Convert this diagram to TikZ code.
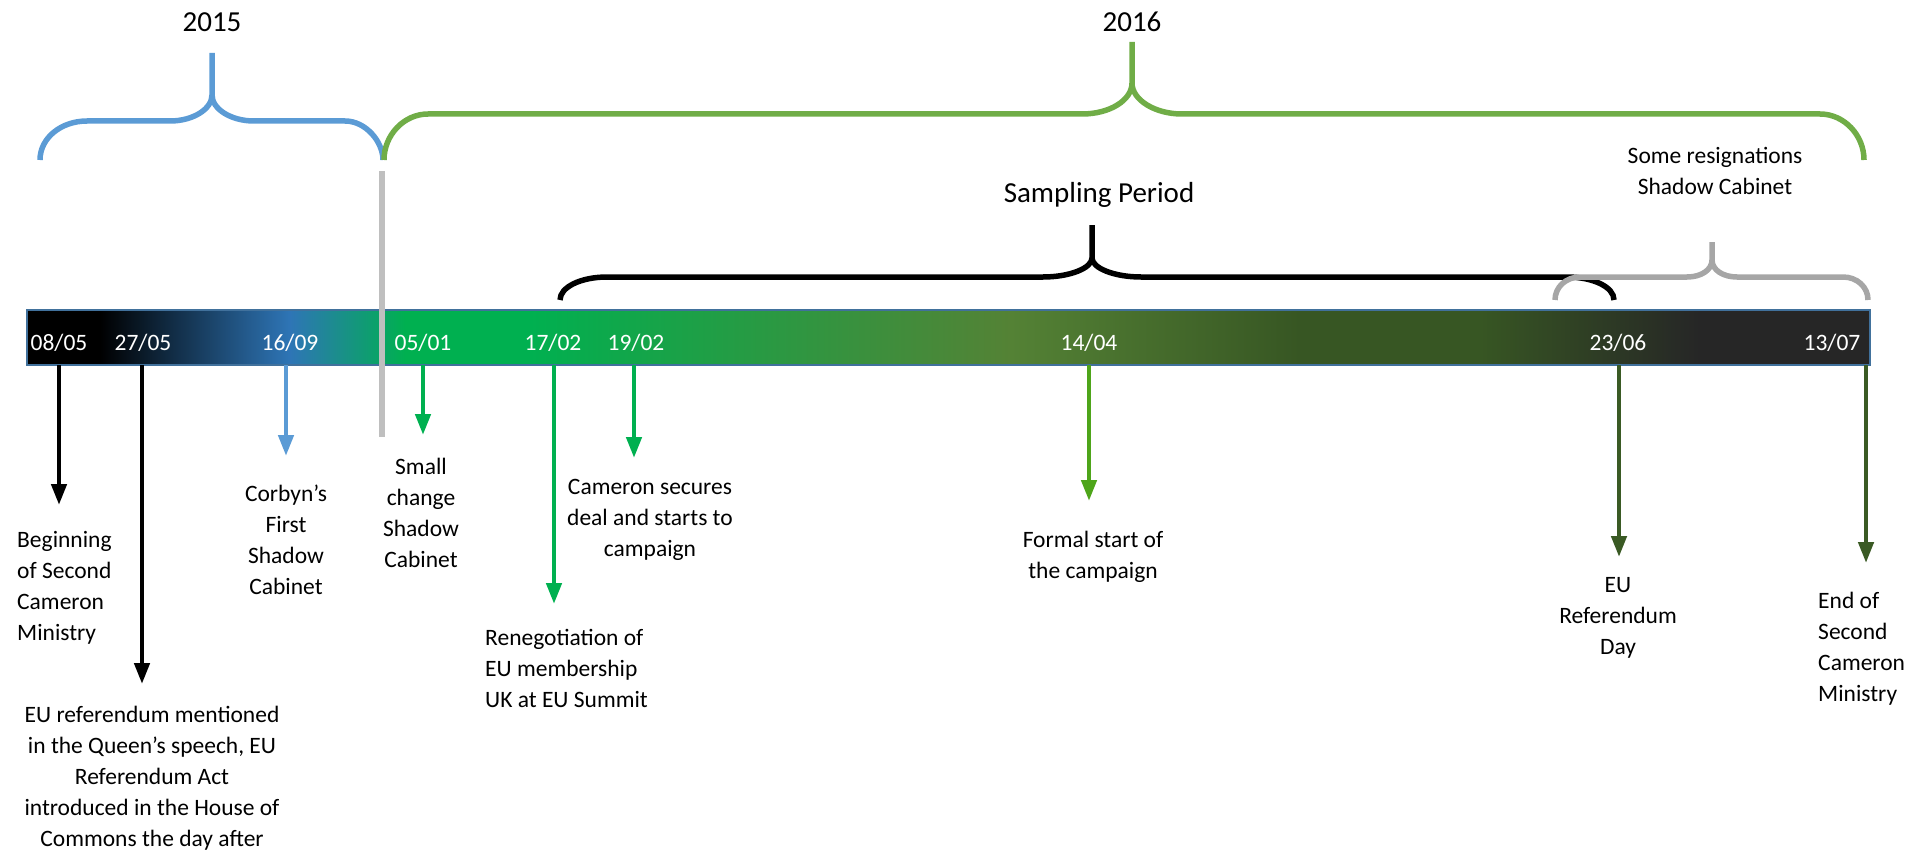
\documentclass[tikz,border=0pt]{standalone}
\usepackage{fontspec}
\setmainfont{Carlito}
\usetikzlibrary{arrows.meta}
\definecolor{yrblue}{HTML}{5B9BD5}
\definecolor{yrgreen}{HTML}{70AD47}
\definecolor{evgreen}{HTML}{00B050}
\definecolor{midgreen}{HTML}{4EA51A}
\definecolor{darkgreen}{HTML}{3A5A24}
\definecolor{splitgray}{HTML}{BFBFBF}
\definecolor{bracegray}{HTML}{A6A6A6}
\definecolor{barblue}{HTML}{2E75B6}
\definecolor{barolive}{HTML}{548235}
\definecolor{bardark}{HTML}{375623}
\definecolor{barcoal}{HTML}{262626}
\definecolor{baredge}{HTML}{41719C}
\begin{document}
\begin{tikzpicture}[x=1pt,y=-1pt,
  evarrow/.style={line width=4.5pt,-{Triangle[length=21pt,width=15pt]}},
  bracket/.style={line width=5.5pt},
  datelbl/.style={white,inner sep=0pt,font=\fontsize{23.5}{28}\selectfont},
  note/.style={inner sep=0pt,align=center,font=\fontsize{23.5}{31}\selectfont},
  heading/.style={inner sep=0pt,font=\fontsize{29}{34}\selectfont}]
\useasboundingbox (0,0) rectangle (1932,864);
% time bar
\fill[black] (27,310) rectangle (100,365);
\fill[left color=black,right color=barblue] (100,310) rectangle (290,365);
\fill[left color=barblue,right color=evgreen] (290,310) rectangle (405,365);
\fill[left color=evgreen,right color=evgreen] (405,310) rectangle (530,365);
\fill[left color=evgreen,right color=barolive] (530,310) rectangle (1010,365);
\fill[left color=barolive,right color=bardark] (1010,310) rectangle (1300,365);
\fill[left color=bardark,right color=bardark] (1300,310) rectangle (1480,365);
\fill[left color=bardark,right color=barcoal] (1480,310) rectangle (1700,365);
\fill[barcoal] (1700,310) rectangle (1870,365);
\draw[baredge,line width=2pt] (27,310) rectangle (1870,365);
% years
\node[heading] (y2015) at (212,22) {2015};
\node[heading] (y2016) at (1132,22) {2016};
\draw[bracket,yrblue] (40,160) .. controls (40,138) and (61,121) .. (87,121) -- (170,121)
  .. controls (193,121) and (212,109) .. (212,95) -- (212,53)
  (212,95) .. controls (212,109) and (231,121) .. (254,121) -- (345,121)
  .. controls (366,121) and (383,142) .. (383,160);
\draw[bracket,yrgreen] (384,160) .. controls (384,135) and (404,114) .. (428,114) -- (1082,114)
  .. controls (1110,114) and (1132,100) .. (1132,83) -- (1132,42)
  (1132,83) .. controls (1132,100) and (1155,114) .. (1182,114) -- (1820,114)
  .. controls (1844,114) and (1864,135) .. (1864,160);
\draw[splitgray,line width=6pt] (382,171) -- (382,437);
% sampling period
\node[heading] (sampling) at (1099,195) {Sampling Period};
\draw[bracket,black] (560,300) .. controls (560,287) and (581,277) .. (607,277) -- (1043,277)
  .. controls (1070,277) and (1092,268) .. (1092,258) -- (1092,225)
  (1092,258) .. controls (1092,268) and (1114,277) .. (1141,277) -- (1567,277)
  .. controls (1593,277) and (1614,287) .. (1614,300);
\node[note] (resign) at (1715,171) {Some resignations\\Shadow Cabinet};
\draw[bracket,bracegray] (1555,300) .. controls (1555,287) and (1566,277) .. (1580,277) -- (1687,277)
  .. controls (1701,277) and (1712,270) .. (1712,260) -- (1712,242)
  (1712,260) .. controls (1712,270) and (1723,277) .. (1737,277) -- (1843,277)
  .. controls (1857,277) and (1868,287) .. (1868,300);
% dates
\node[datelbl] (l0805) at (59,343) {08/05};
\node[datelbl] (l2705) at (143,343) {27/05};
\node[datelbl] (l1609) at (290,343) {16/09};
\node[datelbl] (l0501) at (423,343) {05/01};
\node[datelbl] (l1702) at (553,343) {17/02};
\node[datelbl] (l1902) at (636,343) {19/02};
\node[datelbl] (l1404) at (1089,343) {14/04};
\node[datelbl] (l2306) at (1618,343) {23/06};
\node[datelbl] (l1307) at (1832,343) {13/07};
% arrows
\coordinate (s0805) at (59,365);   \coordinate (t0805) at (59,505);
\coordinate (s2705) at (142,365);  \coordinate (t2705) at (142,684);
\coordinate (s1609) at (286,365);  \coordinate (t1609) at (286,456);
\coordinate (s0501) at (423,365);  \coordinate (t0501) at (423,435);
\coordinate (s1702) at (554,365);  \coordinate (t1702) at (554,604);
\coordinate (s1902) at (634,365);  \coordinate (t1902) at (634,458);
\coordinate (s1404) at (1089,365); \coordinate (t1404) at (1089,501);
\coordinate (s2306) at (1619,365); \coordinate (t2306) at (1619,557);
\coordinate (s1307) at (1866,365); \coordinate (t1307) at (1866,563);
\draw[evarrow,black] (s0805) -- (t0805);
\draw[evarrow,black] (s2705) -- (t2705);
\draw[evarrow,yrblue] (s1609) -- (t1609);
\draw[evarrow,evgreen] (s0501) -- (t0501);
\draw[evarrow,evgreen] (s1702) -- (t1702);
\draw[evarrow,evgreen] (s1902) -- (t1902);
\draw[evarrow,midgreen] (s1404) -- (t1404);
\draw[evarrow,darkgreen] (s2306) -- (t2306);
\draw[evarrow,darkgreen] (s1307) -- (t1307);
% events
\node[note,align=left,anchor=west] (e0805) at (17,588) {Beginning\\of Second\\Cameron\\Ministry};
\node[note] (e2705) at (152,778) {EU referendum mentioned\\in the Queen’s speech, EU\\Referendum Act\\introduced in the House of\\Commons the day after};
\node[note] (e1609) at (286,540) {Corbyn’s\\First\\Shadow\\Cabinet};
\node[note] (e0501) at (421,513) {Small\\change\\Shadow\\Cabinet};
\node[note] (e1902) at (650,520) {Cameron secures\\deal and starts to\\campaign};
\node[note,align=left,anchor=west] (e1702) at (485,668) {Renegotiation of\\EU membership\\UK at EU Summit};
\node[note] (e1404) at (1093,557) {Formal start of\\the campaign};
\node[note] (e2306) at (1618,618) {EU\\Referendum\\Day};
\node[note,align=left,anchor=west] (e1307) at (1818,649) {End of\\Second\\Cameron\\Ministry};
\end{tikzpicture}
\end{document}
